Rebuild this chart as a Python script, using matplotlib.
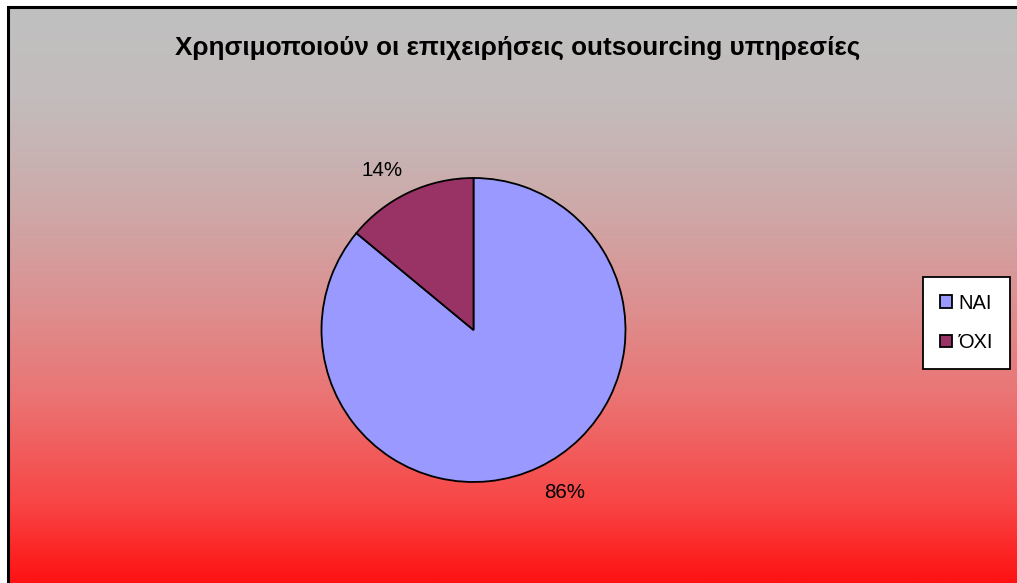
import numpy as np
import matplotlib
matplotlib.use("Agg")
import matplotlib.pyplot as plt
from matplotlib.colors import LinearSegmentedColormap
from matplotlib.patches import Rectangle

plt.rcParams['font.family'] = ['Liberation Sans', 'DejaVu Sans']

title = "Χρησιμοποιούν οι επιχειρήσεις outsourcing υπηρεσίες"
labels = ["ΝΑΙ", "ΌΧΙ"]
shares = [86, 14]
colors = ["#9999FF", "#993366"]

# background fill: silver at the top fading to red at the bottom
grad_stops = [
    (0.00, (192, 192, 192)),
    (0.16, (195, 188, 188)),
    (0.34, (205, 170, 170)),
    (0.51, (220, 145, 145)),
    (0.68, (235, 115, 115)),
    (0.86, (248, 70, 70)),
    (1.00, (255, 18, 18)),
]
bg_cmap = LinearSegmentedColormap.from_list(
    "bg", [(p, tuple(c / 255 for c in rgb)) for p, rgb in grad_stops])

W, H = 1017, 583
fig = plt.figure(figsize=(W / 100, H / 100), dpi=100)
fig.patch.set_facecolor("white")

# chart area (runs past the right and bottom edges)
x0, y_top = 8 / W, 1 - 7 / H
bg = fig.add_axes([x0, 0, 1 - x0 + 0.01, y_top])
bg.imshow(np.linspace(0, 1, 256).reshape(-1, 1), aspect="auto",
          cmap=bg_cmap, extent=[0, 1, 0, 1], origin="upper")
bg.set_xlim(0, 1)
bg.set_ylim(0, 1)
bg.axis("off")
fig.add_artist(Rectangle((x0, -0.02), 1.1, y_top + 0.02,
                         transform=fig.transFigure, fill=False,
                         edgecolor="black", linewidth=2.2, zorder=5))

fig.text(518 / W, 1 - 48 / H, title, ha="center", va="center",
         fontsize=18.8, fontweight="bold", color="black")

# pie
r_px = 152
cx, cy = 473.5, 330
ax = fig.add_axes([(cx - r_px) / W, 1 - (cy + r_px) / H,
                   2 * r_px / W, 2 * r_px / H])
wedges, _ = ax.pie(shares, colors=colors, startangle=90, counterclock=False,
                   wedgeprops=dict(edgecolor="black", linewidth=1.3))
ax.set_xlim(-1, 1)
ax.set_ylim(-1, 1)
ax.set_aspect("auto")
ax.axis("off")

# percentage labels outside each slice
pct_pos = [(565, 492), (382, 170)]
for (px, py), v in zip(pct_pos, shares):
    fig.text(px / W, 1 - py / H, f"{v}%", ha="center", va="center",
             fontsize=14.8, color="black")

leg = fig.legend(wedges, labels, loc="center",
                 bbox_to_anchor=(966.5 / W, 1 - 323 / H),
                 frameon=True, fancybox=False, fontsize=14.5,
                 handlelength=0.6, handleheight=0.6, handletextpad=0.35,
                 labelspacing=1.0, borderpad=0.85, borderaxespad=0)
leg.get_frame().set_edgecolor("black")
leg.get_frame().set_linewidth(1.3)
leg.get_frame().set_facecolor("white")
leg.get_frame().set_alpha(1)

fig.savefig("out.png", dpi=100)
